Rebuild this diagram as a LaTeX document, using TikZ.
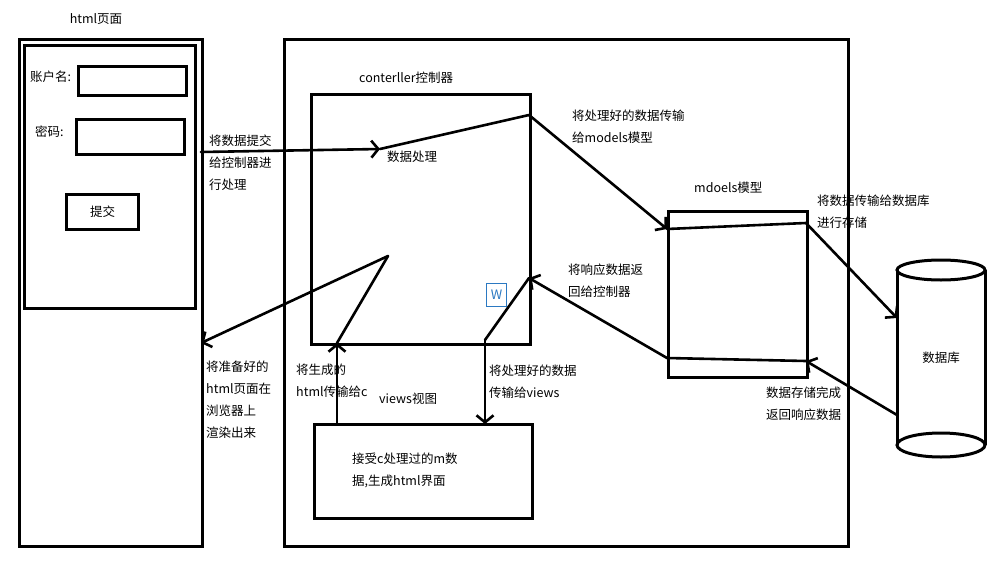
\documentclass[tikz,border=0pt]{standalone}
\usepackage{fontspec}
\setmainfont{Noto Sans CJK SC}
\usetikzlibrary{arrows.meta}
\definecolor{wblue}{RGB}{43,121,194}
\begin{document}
\begin{tikzpicture}[x=1pt,y=-1pt,
  box/.style={draw,line width=3pt,inner sep=0pt,anchor=north west},
  lbl/.style={inner sep=0pt,anchor=west,align=left,font=\fontsize{12.5}{22}\selectfont},
  conn/.style={line width=2.6pt,line cap=round},
  arr/.style={conn,-{Straight Barb[length=7pt,width=17pt,line width=2.6pt]}}]
\useasboundingbox (0,0) rectangle (994,560);
\fill[white] (0,0) rectangle (994,560);

% boxes
\node[box,minimum width=183pt,minimum height=507pt] (page) at (18,38) {};
\node[box,minimum width=171pt,minimum height=263pt] (form) at (23,44) {};
\node[box,minimum width=108pt,minimum height=29pt] (acct) at (77,65) {};
\node[box,minimum width=108pt,minimum height=35pt] (pwd) at (75,118) {};
\node[box,minimum width=72pt,minimum height=35pt,font=\fontsize{12.5}{15}\selectfont] (submit) at (65,193) {提交};
\node[box,minimum width=564pt,minimum height=507pt] (app) at (283,38) {};
\node[box,minimum width=219pt,minimum height=250pt] (ctrl) at (310,93) {};
\node[box,minimum width=139pt,minimum height=166pt] (models) at (667,210) {};
\node[box,minimum width=218pt,minimum height=94pt] (views) at (313,423) {};

% database cylinder
\node[minimum width=88pt,minimum height=175pt,inner sep=0pt,font=\fontsize{12.5}{15}\selectfont] (db) at (941,357.5) {数据库};
\draw[line width=3pt] (941,270) ellipse [x radius=44pt,y radius=10pt];
\draw[line width=3pt] (941,445) ellipse [x radius=44pt,y radius=12pt];
\draw[line width=3pt] (897,270) -- (897,445) (985,270) -- (985,445);

% W icon
\node[draw=wblue,text=wblue,line width=1pt,anchor=north west,minimum width=20pt,minimum height=23pt,inner sep=0pt,font=\fontsize{13}{15}\selectfont] (wicon) at (486,283) {W};

% labels
\node[lbl,anchor=center] (tpage) at (96,19) {html页面};
\node[lbl] (tacct) at (30,77) {账户名:};
\node[lbl] (tpwd) at (35,132) {密码:};
\node[lbl] (tctrl) at (359,78) {conterller控制器};
\node[lbl] (tproc) at (387,157) {数据处理};
\node[lbl] (tsubmit) at (209,163) {将数据提交\\给控制器进\\行处理};
\node[lbl] (ttomodel) at (572,127) {将处理好的数据传输\\给models模型};
\node[lbl] (tmodels) at (694,188) {mdoels模型};
\node[lbl] (ttodb) at (817,212) {将数据传输给数据库\\进行存储};
\node[lbl] (tresp) at (568,281) {将响应数据返\\回给控制器};
\node[lbl] (tdone) at (766,404) {数据存储完成\\返回响应数据};
\node[lbl] (ttoviews) at (489,382) {将处理好的数据\\传输给views};
\node[lbl] (tgen) at (296,381) {将生成的\\html传输给c};
\node[lbl] (tviews) at (379,399) {views视图};
\node[lbl] (trender) at (206,400) {将准备好的\\html页面在\\浏览器上\\渲染出来};
\node[lbl] (tvin) at (352,470) {接受c处理过的m数\\据,生成html界面};

% connector points
\coordinate (c0) at (201,152);
\coordinate (c1) at (380,149);
\coordinate (c2) at (529,115);
\coordinate (c3) at (667,229);
\coordinate (c4) at (806,223);
\coordinate (c5) at (897,318);
\coordinate (c6) at (897,415);
\coordinate (c7) at (806,361);
\coordinate (c8) at (667,358);
\coordinate (c9) at (529,278);
\coordinate (c10) at (485,340);
\coordinate (c11) at (485,424);
\coordinate (c12) at (337,423);
\coordinate (c13) at (337,343);
\coordinate (c14) at (388,256);
\coordinate (c15) at (201,343);

\draw[arr] (c0) -- (c1);
\draw[conn] (c1) -- (c2);
\draw[arr] (c2) -- (c3);
\draw[conn] (c3) -- (c4);
\draw[arr] (c4) -- (c5);
\draw[arr] (c6) -- (c7);
\draw[conn] (c7) -- (c8);
\draw[arr] (c8) -- (c9);
\draw[conn] (c9) -- (c10);
\draw[arr] (c10) -- (c11);
\draw[arr] (c12) -- (c13);
\draw[conn] (c13) -- (c14);
\draw[arr] (c14) -- (c15);
\end{tikzpicture}
\end{document}
